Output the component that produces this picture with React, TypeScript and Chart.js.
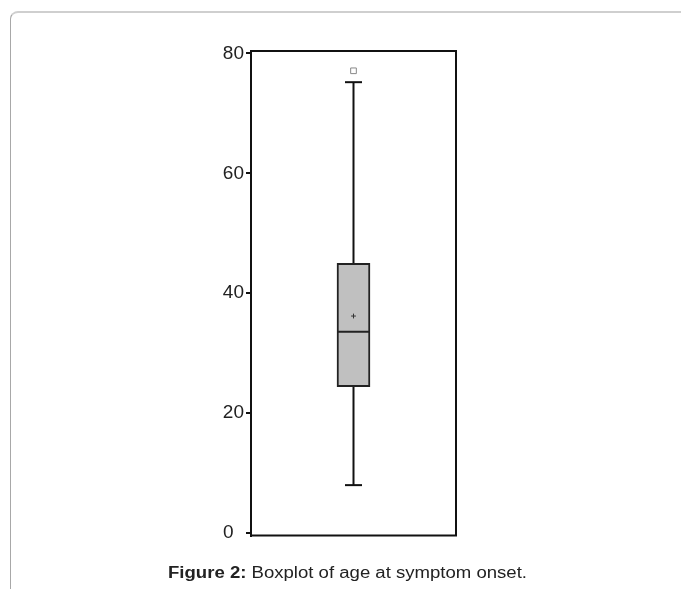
import React, { useEffect, useRef } from "react";
import { Chart, registerables } from "chart.js";

Chart.register(...registerables);

const categories = ["Age at symptom onset"];
const boxLow = [24.4];
const boxHigh = [45.0];
const medians = [33.6];
const means = [36.2];
const whiskerMin = [8.0];
const whiskerMax = [75.2];
const outliers = [77.1];
const tickValues = [0, 20, 40, 60, 80];
const tickLabels = ["0  ", "20", "40", "60", "80"];

const whiskerPlugin = {
  id: "whiskers",
  beforeDatasetsDraw(chart: any) {
    const { ctx } = chart;
    const xs = chart.scales.x;
    const ys = chart.scales.y;
    ctx.save();
    ctx.strokeStyle = "#111";
    ctx.lineWidth = 2;
    categories.forEach((_, i) => {
      const x = xs.getPixelForValue(i);
      const capHalf = 8.5;
      const segs: [number, number][] = [
        [whiskerMax[i], boxHigh[i]],
        [boxLow[i], whiskerMin[i]],
      ];
      segs.forEach(([a, b]) => {
        ctx.beginPath();
        ctx.moveTo(x, ys.getPixelForValue(a));
        ctx.lineTo(x, ys.getPixelForValue(b));
        ctx.stroke();
      });
      [whiskerMax[i], whiskerMin[i]].forEach((v) => {
        const y = ys.getPixelForValue(v);
        ctx.beginPath();
        ctx.moveTo(x - capHalf, y);
        ctx.lineTo(x + capHalf, y);
        ctx.stroke();
      });
    });
    ctx.restore();
  },
  afterDatasetsDraw(chart: any) {
    const { ctx, chartArea } = chart;
    const xs = chart.scales.x;
    const ys = chart.scales.y;
    ctx.save();
    ctx.strokeStyle = "#222";
    ctx.lineWidth = 2;
    categories.forEach((_, i) => {
      const meta = chart.getDatasetMeta(0);
      const bar = meta.data[i] as any;
      const half = bar.width / 2;
      const x = xs.getPixelForValue(i);
      const y = ys.getPixelForValue(medians[i]);
      ctx.beginPath();
      ctx.moveTo(x - half, y);
      ctx.lineTo(x + half, y);
      ctx.stroke();
    });
    ctx.strokeStyle = "#111";
    ctx.lineWidth = 2;
    ctx.strokeRect(
      chartArea.left,
      chartArea.top,
      chartArea.right - chartArea.left,
      chartArea.bottom - chartArea.top
    );
    ctx.restore();
  },
};

export default function App() {
  const ref = useRef<HTMLCanvasElement | null>(null);

  useEffect(() => {
    if (!ref.current) return;
    const chart = new Chart(ref.current, {
      type: "bar",
      data: {
        labels: categories,
        datasets: [
          {
            type: "bar",
            data: categories.map((_, i) => [boxLow[i], boxHigh[i]]) as any,
            backgroundColor: "#c0c0c0",
            borderColor: "#222",
            borderWidth: 2,
            borderSkipped: false,
            barThickness: 33,
            order: 3,
          },
          {
            type: "line",
            data: means,
            showLine: false,
            pointStyle: "cross",
            pointRadius: 2.4,
            borderColor: "#333",
            borderWidth: 1,
            order: 1,
          } as any,
          {
            type: "line",
            data: outliers,
            showLine: false,
            pointStyle: "rect",
            pointRadius: 4,
            backgroundColor: "#fff",
            borderColor: "#888",
            borderWidth: 1,
            order: 1,
          } as any,
        ],
      },
      options: {
        responsive: false,
        animation: false,
        events: [],
        layout: {
          padding: { left: 191, right: 225, top: 51, bottom: 53.5 },
        },
        plugins: {
          legend: { display: false },
          tooltip: { enabled: false },
        },
        scales: {
          x: {
            type: "category",
            display: false,
            offset: true,
          },
          y: {
            type: "linear",
            min: -0.4,
            max: 80.4,
            afterFit: (scale: any) => {
              scale.width = 60;
            },
            afterBuildTicks: (scale: any) => {
              scale.ticks = tickValues.map((v) => ({ value: v }));
            },
            border: { display: true, color: "#111", width: 2 },
            grid: {
              display: true,
              drawOnChartArea: false,
              drawTicks: true,
              tickLength: 5,
              color: "#111",
              lineWidth: 2,
            },
            ticks: {
              padding: 2,
              color: "#222",
              font: { family: "Arial, 'Liberation Sans', sans-serif", size: 19 },
              callback: (v: any) => {
                const idx = tickValues.indexOf(Number(v));
                return idx >= 0 ? tickLabels[idx] : String(v);
              },
            },
          },
        },
      },
      plugins: [whiskerPlugin],
    });
    return () => chart.destroy();
  }, []);

  return (
    <div>
      <div
        style={{
          position: "absolute",
          left: 10,
          top: 11,
          width: 671,
          height: 578,
          borderTop: "2px solid #cfcfcf",
          borderLeft: "1px solid #a8a8a8",
          borderTopLeftRadius: 8,
          boxSizing: "border-box",
        }}
      />
      <canvas
        ref={ref}
        width={681}
        height={589}
        style={{ position: "absolute", left: 0, top: 0, width: 681, height: 589 }}
      />
      <div
        style={{
          position: "absolute",
          left: 0,
          top: 563,
          width: 695,
          textAlign: "center",
          fontFamily: "Arial, 'Liberation Sans', sans-serif",
          fontSize: 16,
          color: "#222",
          lineHeight: "20px",
          whiteSpace: "nowrap",
          transform: "scaleX(1.16)",
          transformOrigin: "347.5px 50%",
        }}
      >
        <b>Figure 2:</b> Boxplot of age at symptom onset.
      </div>
    </div>
  );
}
